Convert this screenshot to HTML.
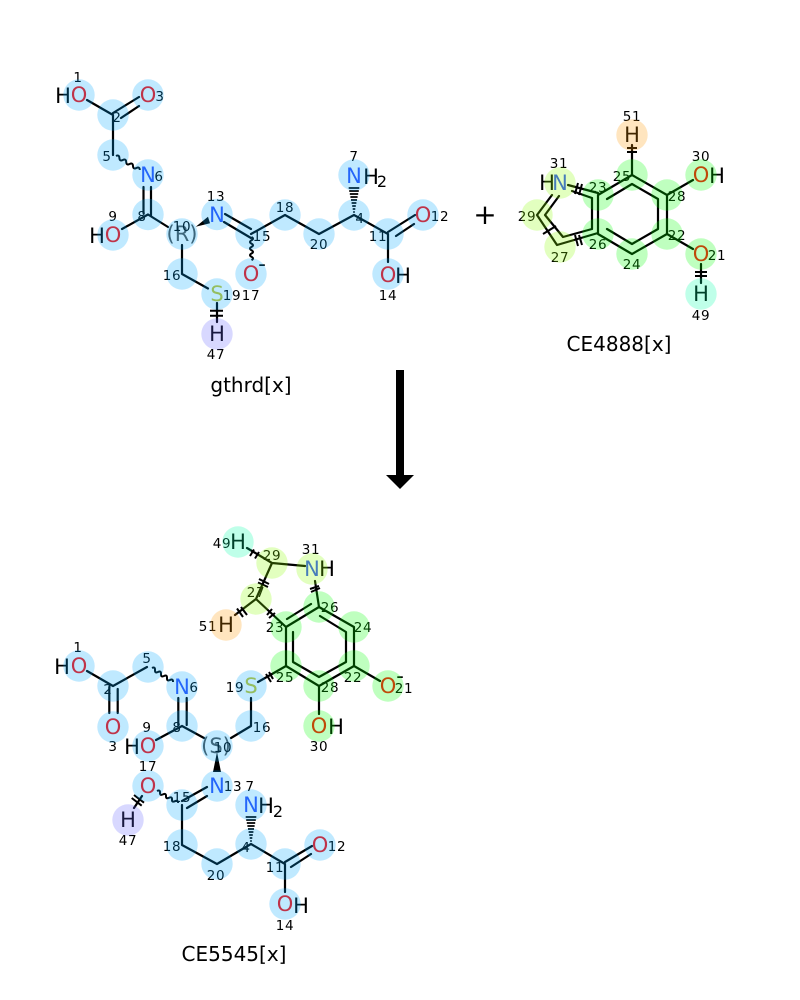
<!DOCTYPE html>
<html><head><meta charset="utf-8"><style>
html,body{margin:0;padding:0;background:#fff}
svg{display:block}
text{font-family:"DejaVu Sans","Liberation Sans",sans-serif;text-anchor:middle}
.a{font-size:21px}
.i{font-size:13.500px;fill:#000;letter-spacing:.7px}
.N{fill:#3050F8}.O{fill:#FF0D0D}.S{fill:#C6C62C}.H{fill:#000}.G{fill:#505050}
.cap{font-size:20px;fill:#000}
.b{stroke:#000;stroke-width:2.200;fill:none;stroke-linecap:round;stroke-linejoin:round}
.t{stroke:#000;stroke-width:2;fill:none}
.h{stroke:#000;stroke-width:1.700;fill:none}
.w{stroke:#000;stroke-width:2;fill:none}
.bl{fill:rgba(0,168,255,.25)}.gr{fill:rgba(0,255,0,.25)}.yg{fill:rgba(140,255,0,.25)}
.or{fill:rgba(255,153,0,.25)}.pu{fill:rgba(100,100,255,.25)}.cy{fill:rgba(0,255,168,.25)}
</style></head><body>
<svg width="800" height="1000" viewBox="0 0 800 1000" xmlns="http://www.w3.org/2000/svg">
<rect width="800" height="1000" fill="#fff"/>

<!-- gthrd bonds -->
<path class="b" d="M87 100L113 115M113 113L139 97M121 118L139 106M113 115V155M143.500 187V213M151 187V216M148 214.500L122 229M148 214.500L168 227M182 245V274L208 288.500M217 303V322M225 214L251 229M224 222L251 238M251 234L285 215L319 234L354 215L388 234M388 232L415 215M396 236L414 224M388 234V262"/>
<path class="w" d="M116 156q3.200 -1.600 3.400 2t3.400 2t3.400 2t3.400 2t3.400 2t3.400 2t3.400 2"/>
<path class="w" d="M251.500 237q3 1.650 0 3.300t0 3.300t0 3.300t0 3.300t0 3.300t0 3.300t0 3.300"/>
<path fill="#000" d="M195.700 226.700L208 216.700L210 223.300Z"/>
<path class="t" d="M210 310.700H223M210 315.700H223"/>
<path class="h" d="M353.200 212h1.600M352.700 209h2.600M352.200 206h3.600M351.600 203h4.800M351 200h6M350.400 197h7.200M349.800 194h8.400M349.200 191h9.600M348.700 188h10.600"/>

<!-- gthrd labels -->
<text class="a H" x="63" y="103">H</text><text class="a O" x="79" y="102">O</text>
<text class="a O" x="148" y="102">O</text>
<text class="a N" x="148" y="182">N</text>
<text class="a H" x="97" y="243">H</text><text class="a O" x="113" y="242">O</text>
<text class="a G" x="182" y="241">(R)</text>
<text class="a N" x="217" y="222">N</text>
<text class="a S" x="217" y="301">S</text>
<text class="a H" x="217" y="341">H</text>
<text class="a O" x="251" y="281">O</text><text class="a H" x="262" y="271">-</text>
<text class="a N" x="354" y="183">N</text><text class="a H" x="371" y="184">H</text><text class="H" style="font-size:16px" x="382" y="187">2</text>
<text class="a O" x="423" y="222">O</text>
<text class="a O" x="388" y="282">O</text><text class="a H" x="403" y="283">H</text>
<text class="i" x="78" y="82">1</text><text class="i" x="160" y="101">3</text><text class="i" x="117" y="122">2</text><text class="i" x="107" y="161">5</text><text class="i" x="159" y="181">6</text><text class="i" x="113" y="221">9</text><text class="i" x="142" y="221">8</text><text class="i" x="182" y="231">10</text><text class="i" x="216" y="201">13</text><text class="i" x="172" y="280">16</text><text class="i" x="232" y="300">19</text><text class="i" x="251" y="300">17</text><text class="i" x="216" y="359">47</text><text class="i" x="354" y="161">7</text><text class="i" x="285" y="212">18</text><text class="i" x="319" y="249">20</text><text class="i" x="360" y="223">4</text><text class="i" x="262" y="241">15</text><text class="i" x="378" y="241">11</text><text class="i" x="440" y="221">12</text><text class="i" x="388" y="300">14</text>
<text class="cap" x="251" y="392">gthrd[x]</text>

<text x="485" y="224" fill="#000" style="font-size:28px">+</text>

<!-- CE4888 bonds -->
<path class="b" d="M598 195L632 175L667 195V234L632 254L598 234V195M592 198V229M607 199L632 184L658 199V229L632 244L607 229M568 185L598 193M572 191L592 198M592 229L563 237L545 215L559 196M552 195L537 215L557 245L598 233M632 145V175M667 195L693 180M667 234L693 249M701 264V283"/>
<path class="t" d="M627 148H637M627 152H637M695 272H707M695 276H707M578 183L575 194M582 184L579 195M575 235L578 246M579 235L582 245M543 234L556 226"/>

<!-- CE4888 labels -->
<text class="a H" x="632" y="142">H</text>
<text class="a O" x="701" y="182">O</text><text class="a H" x="717" y="183">H</text>
<text class="a O" x="701" y="261">O</text>
<text class="a H" x="701" y="301">H</text>
<text class="a H" x="547" y="190">H</text><text class="a N" x="560" y="190">N</text>
<text class="i" x="632" y="121">51</text><text class="i" x="622" y="181">25</text><text class="i" x="701" y="161">30</text><text class="i" x="677" y="201">28</text><text class="i" x="677" y="240">22</text><text class="i" x="717" y="260">21</text><text class="i" x="701" y="320">49</text><text class="i" x="632" y="269">24</text><text class="i" x="598" y="249">26</text><text class="i" x="598" y="192">23</text><text class="i" x="559" y="168">31</text><text class="i" x="527" y="221">29</text><text class="i" x="560" y="262">27</text>
<text class="cap" x="619" y="351">CE4888[x]</text>

<!-- Arrow -->
<rect x="396" y="370" width="8" height="106" fill="#000"/>
<path fill="#000" d="M386 475H414L400 489Z"/>

<!-- CE5545 bonds -->
<path class="b" d="M247 548L272 563L305 566M272 563L256 599L235 615M256 599L286 627M315 581L319 607L354 627V666L319 686L286 666V627L319 607M287 619L311 604M320 616L346 632V662L319 677L293 662V632M319 686V714M354 666L380 681M286 666L258 682M251 698V726L231 738M87 671L113 686L147 667M109.300 687V713M117.700 689V713M178.300 698V725M186.700 698V725M182 726L156 740M182 726L204 738M207 787L182 801M207 796L187 808M142 796L134 808M182 805V845L217 864L251 844L285 864M285 862L312 846M291 867L311 854M285 864V892"/>
<path class="w" d="M152 668q3.200 -1.500 3 2t3 2t3 2t3 2t3 2t3 2t3 2"/>
<path class="w" d="M157 791q3.200 -1.500 3 1.700t3 1.700t3 1.700t3 1.700t3 1.700t3 1.700t3 1.700"/>
<path class="t" d="M254 549.500L250 556M259 552L255 558.500M259 579L269 584M258 582.500L268 587M237 608.500L243 617M241 607L247 615M267 615L272 609M269 618L275 613M310 589L319 586M311 592L320 588M266 674L271 682M269 672L273 679M131.700 798L141.700 805.700M134 795L144 802.700"/>
<path fill="#000" d="M217 752L213 772H221Z"/>
<path class="h" d="M250.200 841h1.600M249.700 838h2.600M249.200 835h3.600M248.600 832h4.800M248 829h6M247.400 826h7.200M246.800 823h8.400M246.200 820h9.600M245.700 817h10.600"/>

<!-- CE5545 labels -->
<text class="a H" x="238" y="549">H</text>
<text class="a N" x="312" y="576">N</text><text class="a H" x="327" y="576">H</text>
<text class="a H" x="226" y="632">H</text>
<text class="a O" x="388" y="693">O</text><text class="a H" x="400" y="683">-</text>
<text class="a O" x="319" y="733">O</text><text class="a H" x="336" y="734">H</text>
<text class="a S" x="251" y="693">S</text>
<text class="a G" x="216" y="753">(S)</text>
<text class="a H" x="62" y="674">H</text><text class="a O" x="79" y="673">O</text>
<text class="a O" x="113" y="734">O</text>
<text class="a N" x="182" y="694">N</text>
<text class="a H" x="132" y="754">H</text><text class="a O" x="148" y="753">O</text>
<text class="a O" x="148" y="793">O</text>
<text class="a H" x="128" y="827">H</text>
<text class="a N" x="217" y="793">N</text>
<text class="a N" x="251" y="812">N</text><text class="a H" x="266" y="813">H</text><text class="H" style="font-size:16px" x="278" y="817">2</text>
<text class="a O" x="320" y="852">O</text>
<text class="a O" x="285" y="911">O</text><text class="a H" x="301" y="913">H</text>
<text class="i" x="222" y="548">49</text><text class="i" x="272" y="560">29</text><text class="i" x="311" y="554">31</text><text class="i" x="256" y="597">27</text><text class="i" x="330" y="612">26</text><text class="i" x="363" y="632">24</text><text class="i" x="275" y="632">23</text><text class="i" x="208" y="631">51</text><text class="i" x="285" y="682">25</text><text class="i" x="353" y="682">22</text><text class="i" x="330" y="692">28</text><text class="i" x="404" y="693">21</text><text class="i" x="235" y="692">19</text><text class="i" x="262" y="732">16</text><text class="i" x="319" y="751">30</text><text class="i" x="223" y="752">10</text><text class="i" x="78" y="652">1</text><text class="i" x="108" y="694">2</text><text class="i" x="113" y="751">3</text><text class="i" x="147" y="663">5</text><text class="i" x="194" y="692">6</text><text class="i" x="177" y="732">8</text><text class="i" x="147" y="732">9</text><text class="i" x="148" y="771">17</text><text class="i" x="128" y="845">47</text><text class="i" x="182" y="802">15</text><text class="i" x="233" y="791">13</text><text class="i" x="250" y="791">7</text><text class="i" x="172" y="851">18</text><text class="i" x="216" y="880">20</text><text class="i" x="246" y="852">4</text><text class="i" x="275" y="872">11</text><text class="i" x="337" y="851">12</text><text class="i" x="285" y="930">14</text>
<text class="cap" x="234" y="961">CE5545[x]</text>

<!-- highlights gthrd -->
<g class="bl">
<circle cx="79" cy="95" r="15.700"/><circle cx="148" cy="95" r="15.700"/><circle cx="113" cy="115" r="15.700"/><circle cx="113" cy="155" r="15.700"/><circle cx="148" cy="175" r="15.700"/><circle cx="148" cy="214.500" r="15.700"/><circle cx="113" cy="235" r="15.700"/><circle cx="182" cy="234" r="15.700"/><circle cx="217" cy="214.500" r="15.700"/><circle cx="182" cy="274" r="15.700"/><circle cx="217" cy="294" r="15.700"/><circle cx="251" cy="234" r="15.700"/><circle cx="251" cy="274" r="15.700"/><circle cx="285" cy="215" r="15.700"/><circle cx="319" cy="234" r="15.700"/><circle cx="354" cy="215" r="15.700"/><circle cx="354" cy="175" r="15.700"/><circle cx="388" cy="234" r="15.700"/><circle cx="423" cy="215" r="15.700"/><circle cx="388" cy="274" r="15.700"/>
</g>
<circle class="pu" cx="217" cy="334" r="15.700"/>

<!-- highlights CE4888 -->
<circle class="or" cx="632" cy="135" r="15.700"/>
<g class="gr"><circle cx="632" cy="175" r="15.700"/><circle cx="667" cy="195" r="15.700"/><circle cx="701" cy="175" r="15.700"/><circle cx="667" cy="234" r="15.700"/><circle cx="701" cy="254" r="15.700"/><circle cx="632" cy="254" r="15.700"/><circle cx="598" cy="234" r="15.700"/><circle cx="598" cy="195" r="15.700"/></g>
<circle class="cy" cx="701" cy="294" r="15.700"/>
<g class="yg"><circle cx="560" cy="183" r="15.700"/><circle cx="537" cy="215" r="15.700"/><circle cx="560" cy="247" r="15.700"/></g>

<!-- highlights CE5545 -->
<circle class="cy" cx="238" cy="542" r="15.700"/>
<g class="yg"><circle cx="272" cy="563" r="15.700"/><circle cx="312" cy="569" r="15.700"/><circle cx="256" cy="599" r="15.700"/></g>
<circle class="or" cx="226" cy="625" r="15.700"/>
<g class="gr"><circle cx="319" cy="607" r="15.700"/><circle cx="354" cy="627" r="15.700"/><circle cx="354" cy="666" r="15.700"/><circle cx="388" cy="686" r="15.700"/><circle cx="319" cy="686" r="15.700"/><circle cx="319" cy="726" r="15.700"/><circle cx="286" cy="666" r="15.700"/><circle cx="286" cy="627" r="15.700"/></g>
<g class="bl">
<circle cx="251" cy="686" r="15.700"/><circle cx="251" cy="726" r="15.700"/><circle cx="217" cy="746" r="15.700"/><circle cx="79" cy="666" r="15.700"/><circle cx="113" cy="686" r="15.700"/><circle cx="113" cy="727" r="15.700"/><circle cx="148" cy="667" r="15.700"/><circle cx="182" cy="687" r="15.700"/><circle cx="182" cy="726" r="15.700"/><circle cx="148" cy="746" r="15.700"/><circle cx="217" cy="786" r="15.700"/><circle cx="148" cy="786" r="15.700"/><circle cx="182" cy="805" r="15.700"/><circle cx="182" cy="845" r="15.700"/><circle cx="217" cy="864" r="15.700"/><circle cx="251" cy="844" r="15.700"/><circle cx="251" cy="805" r="15.700"/><circle cx="285" cy="864" r="15.700"/><circle cx="320" cy="845" r="15.700"/><circle cx="285" cy="904" r="15.700"/>
</g>
<circle class="pu" cx="128" cy="820" r="15.700"/>
</svg>
</body></html>
